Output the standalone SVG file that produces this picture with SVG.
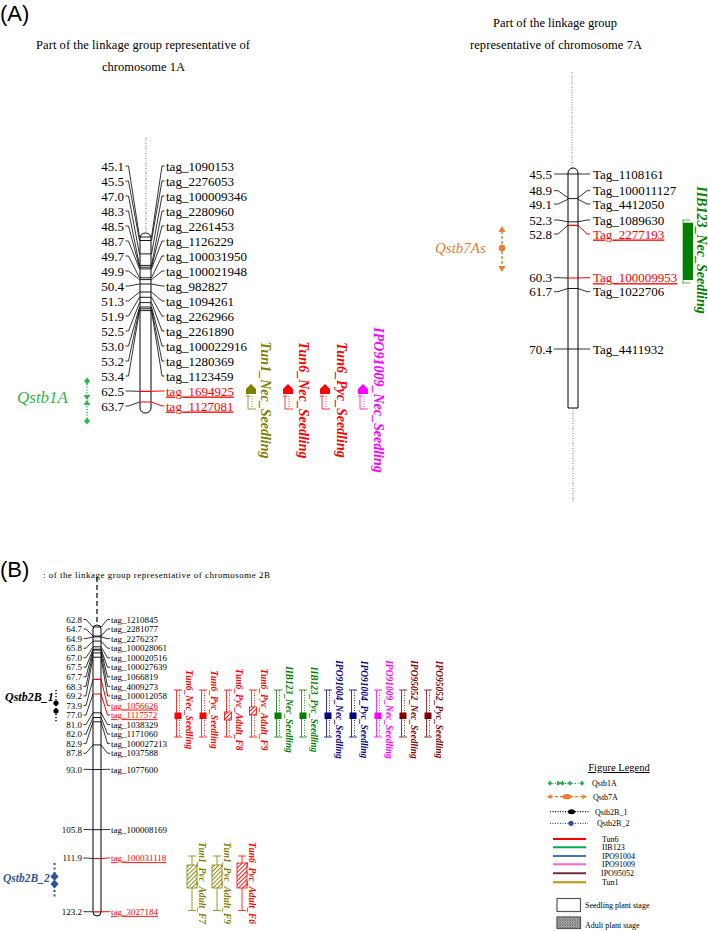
<svg xmlns="http://www.w3.org/2000/svg" width="708" height="931" viewBox="0 0 708 931">
<defs>
<style>
text{font-family:"Liberation Serif","Times New Roman",serif}
.hd{font-family:"Liberation Sans",Arial,sans-serif;font-size:22px}
.ttl{font-size:12.5px}
.m13{font-size:13px}
.m9{font-size:9px}
.e{text-anchor:end}
.r{fill:#f00;text-decoration:underline}
.chr{fill:#fff;stroke:#000;stroke-width:1}
.bd{stroke:#000;stroke-width:0.9}
.bdr{stroke:#f00;stroke-width:1.2}
.cn{fill:none;stroke:#000;stroke-width:0.8}
.cnr{fill:none;stroke:#f00;stroke-width:1}
.ql{font-style:italic;font-weight:bold;text-anchor:middle}
.qa{font-size:14px}
.qb{font-size:9.5px}
.wk{fill:none;stroke-width:0.8}
.dt{fill:none;stroke-width:0.8;stroke-dasharray:1 1.5}
.lg{font-size:8px}
.ll{stroke-width:2}
</style>
<pattern id="hR" width="3" height="3" patternUnits="userSpaceOnUse" patternTransform="rotate(45)"><rect width="3" height="3" fill="#fff"/><line x1="1.5" y1="0" x2="1.5" y2="3" stroke="#f00" stroke-width="0.9"/></pattern>
<pattern id="hO" width="3" height="3" patternUnits="userSpaceOnUse" patternTransform="rotate(45)"><rect width="3" height="3" fill="#fff"/><line x1="1.5" y1="0" x2="1.5" y2="3" stroke="#808000" stroke-width="0.9"/></pattern>
<pattern id="xh" width="2.5" height="2.5" patternUnits="userSpaceOnUse"><rect width="2.5" height="2.5" fill="#ccc"/><path d="M0 0L2.5 2.5M2.5 0L0 2.5" stroke="#444" stroke-width="0.6"/></pattern>
</defs>
<rect width="708" height="931" fill="#fff"/>

<text class="hd" x="0" y="21">(A)</text>
<text class="hd" x="0" y="577">(B)</text>

<g id="title1A">
<text class="ttl" x="36" y="49" textLength="214">Part of the linkage group representative of</text>
<text class="ttl" x="143.5" y="71" text-anchor="middle">chromosome 1A</text>
</g>
<g id="title7A">
<text class="ttl" x="493" y="27" textLength="124">Part of the linkage group</text>
<text class="ttl" x="470" y="49" textLength="172">representative of chromosome 7A</text>
</g>
<g id="title2B">
<text x="43" y="578" font-size="9" textLength="227">: of the linkage group representative of chromosome 2B</text>
</g>

<!-- connectors -->
<g id="connectors">
<path class="cn" d="M125.5 166H128.5L139.5 237M125.5 181H128.5L139.5 240.5M125.5 196H128.5L139.5 253.9M125.5 211H128.5L139.5 265.4M125.5 226H128.5L139.5 267.2M125.5 241H128.5L139.5 268.9M125.5 256H128.5L139.5 277.8M125.5 271H128.5L139.5 279.6M125.5 286H128.5L139.5 284M125.5 301H128.5L139.5 292M125.5 316H128.5L139.5 297.3M125.5 331H128.5L139.5 302.6M125.5 346H128.5L139.5 307M125.5 361H128.5L139.5 308.8M125.5 376H128.5L139.5 310.6M125.5 391H128.5L139.5 391.3M125.5 406H128.5L139.5 402"/>
<path class="cn" d="M151.5 237L162 166H164.5M151.5 240.5L162 181H164.5M151.5 253.9L162 196H164.5M151.5 265.4L162 211H164.5M151.5 267.2L162 226H164.5M151.5 268.9L162 241H164.5M151.5 277.8L162 256H164.5M151.5 279.6L162 271H164.5M151.5 284L162 286H164.5M151.5 292L162 301H164.5M151.5 297.3L162 316H164.5M151.5 302.6L162 331H164.5M151.5 307L162 346H164.5M151.5 308.8L162 361H164.5M151.5 310.6L162 376H164.5"/>
<path class="cnr" d="M151.5 391.3L162 391H164.5M151.5 402L162 406H164.5"/>

<path class="cn" d="M554 174H568M554 190.7H558L568 197.9M554 204H558L568 199.3M554 220H558L568 221.8M554 234H558L568 225.3M554 277.7H558L568 278M554 291.7H558L568 288.5M554 349H568"/>
<path class="cn" d="M578 174H590M578 197.9L587 190.7H590M578 199.3L587 204H590M578 221.8L587 220H590M578 288.5L587 291.7H590M578 349H590"/>
<path class="cnr" d="M578 225.3L587 234H590M578 278L587 277.7H590"/>

<path class="cn" d="M83.5 619.5H86L93 627M83.5 629H86L93 636M83.5 638.6H86L93 636.9M83.5 648.2H86L93 641.1M83.5 657.7H86L93 646.8M83.5 667.2H86L93 649.2M83.5 676.8H86L93 650.1M83.5 686.3H86L93 652.9M83.5 695.9H86L93 657.2M83.5 705.4H86L93 679.3M83.5 715H86L93 694M83.5 724.5H86L93 712.8M83.5 734.1H86L93 717.5M83.5 743.6H86L93 721.8M83.5 753.2H86L93 744.9M83.5 769.3H86L93 769.5M83.5 829.5H86L93 829.7M83.5 858H86L93 858.5M83.5 911.7H86L93 911.8"/>
<path class="cn" d="M101 627L107.5 619.5H110M101 636L107.5 629H110M101 636.9L107.5 638.6H110M101 641.1L107.5 648.2H110M101 646.8L107.5 657.7H110M101 649.2L107.5 667.2H110M101 650.1L107.5 676.8H110M101 652.9L107.5 686.3H110M101 657.2L107.5 695.9H110M101 712.8L107.5 724.5H110M101 717.5L107.5 734.1H110M101 721.8L107.5 743.6H110M101 744.9L107.5 753.2H110M101 769.5L107.5 769.3H110M101 829.7L107.5 829.5H110"/>
<path class="cnr" d="M101 679.3L107.5 705.4H110M101 694L107.5 715H110M101 858.5L107.5 858H110M101 911.8L107.5 911.7H110"/>
</g>

<!-- chromosome 1A -->
<g id="chr1A">
<line x1="146" y1="138" x2="146" y2="233" stroke="#666" stroke-width="0.8" stroke-dasharray="1 1.5"/>
<rect class="chr" x="140" y="233" width="11" height="180" rx="5.5" ry="5"/>
<path class="bd" d="M140 237H151M140 240.5H151M140 253.9H151M140 265.4H151M140 267.2H151M140 268.9H151M140 277.8H151M140 279.6H151M140 284H151M140 292H151M140 297.3H151M140 302.6H151M140 307H151M140 308.8H151M140 310.6H151"/>
<path class="bdr" d="M140 391.3H151M140 402H151"/>
<g class="m13">
<text class="e" x="124" y="170.5">45.1</text>
<text class="e" x="124" y="185.5">45.5</text>
<text class="e" x="124" y="200.5">47.0</text>
<text class="e" x="124" y="215.5">48.3</text>
<text class="e" x="124" y="230.5">48.5</text>
<text class="e" x="124" y="245.5">48.7</text>
<text class="e" x="124" y="260.5">49.7</text>
<text class="e" x="124" y="275.5">49.9</text>
<text class="e" x="124" y="290.5">50.4</text>
<text class="e" x="124" y="305.5">51.3</text>
<text class="e" x="124" y="320.5">51.9</text>
<text class="e" x="124" y="335.5">52.5</text>
<text class="e" x="124" y="350.5">53.0</text>
<text class="e" x="124" y="365.5">53.2</text>
<text class="e" x="124" y="380.5">53.4</text>
<text class="e" x="124" y="395.5">62.5</text>
<text class="e" x="124" y="410.5">63.7</text>
<text x="166" y="170.5">tag_1090153</text>
<text x="166" y="185.5">tag_2276053</text>
<text x="166" y="200.5">tag_100009346</text>
<text x="166" y="215.5">tag_2280960</text>
<text x="166" y="230.5">tag_2261453</text>
<text x="166" y="245.5">tag_1126229</text>
<text x="166" y="260.5">tag_100031950</text>
<text x="166" y="275.5">tag_100021948</text>
<text x="166" y="290.5">tag_982827</text>
<text x="166" y="305.5">tag_1094261</text>
<text x="166" y="320.5">tag_2262966</text>
<text x="166" y="335.5">tag_2261890</text>
<text x="166" y="350.5">tag_100022916</text>
<text x="166" y="365.5">tag_1280369</text>
<text x="166" y="380.5">tag_1123459</text>
<text class="r" x="166" y="395.5">tag_1694925</text>
<text class="r" x="166" y="410.5">tag_1127081</text>
</g>
</g>

<!-- Qstb1A -->
<g id="qstb1A" fill="#2DB84F">
<text x="17" y="403" font-size="17" font-style="italic">Qstb1A</text>
<line x1="87" y1="381" x2="87" y2="421" stroke="#2DB84F" stroke-width="1.3" stroke-dasharray="1.2 1.6"/>
<polygon points="87,377.5 90,381 87,384.5 84,381"/>
<polygon points="87,417.5 90,421 87,424.5 84,421"/>
<polygon points="83.5,395 90.5,395 87,400 90.5,405 83.5,405 87,400"/>
</g>

<!-- Panel A QTLs on 1A -->
<g id="qA_tun1_nec" stroke="#808000" fill="#808000">
<polygon points="246,394 246,389 251,384 256,389 256,394" stroke="none"/>
<path class="wk" d="M248 396V409H256M246 396H250"/>
<path class="dt" d="M252 396V408"/>
<text class="ql qa" stroke="none" transform="translate(261 400) rotate(90)">Tun1_Nec_Seedling</text>
</g>
<g id="qA_tun6_nec" stroke="#f00" fill="#f00">
<polygon points="283,394 283,389 288,384 293,389 293,394" stroke="none"/>
<path class="wk" d="M285 396V409H293M283 396H287"/>
<path class="dt" d="M289 396V408"/>
<text class="ql qa" stroke="none" transform="translate(298.5 400) rotate(90)">Tun6_Nec_Seedling</text>
</g>
<g id="qA_tun6_pyc" stroke="#f00" fill="#f00">
<polygon points="320,394 320,389 325,384 330,389 330,394" stroke="none"/>
<path class="wk" d="M322 396V409H330M320 396H324"/>
<path class="dt" d="M326 396V408"/>
<text class="ql qa" stroke="none" transform="translate(336.5 400) rotate(90)">Tun6_Pyc_Seedling</text>
</g>
<g id="qA_ipo91009_nec" stroke="#f0f" fill="#f0f">
<polygon points="358,394 358,389 363,384 368,389 368,394" stroke="none"/>
<path class="wk" d="M360 396V409H368M358 396H362"/>
<path class="dt" d="M364 396V408"/>
<text class="ql qa" stroke="none" transform="translate(373.5 400) rotate(90)">IPO91009_Nec_Seedling</text>
</g>

<!-- chromosome 7A -->
<g id="chr7A">
<line x1="572" y1="72" x2="572" y2="168" stroke="#666" stroke-width="0.8" stroke-dasharray="1 1.5"/>
<line x1="573" y1="408" x2="573" y2="503" stroke="#666" stroke-width="0.8" stroke-dasharray="1 1.5"/>
<path class="chr" d="M568 408V173A5 5 0 0 1 578 173V408Z"/>
<path class="bd" d="M568 174H578M568 221.8H578M568 349H578"/>
<path class="bd" d="M568 198.6H578" stroke-width="2"/>
<path class="bd" d="M568 288.5H578" stroke-width="2.2"/>
<path class="bdr" d="M568 225.3H578M568 278H578"/>
<g class="m13">
<text class="e" x="552" y="178.5">45.5</text>
<text class="e" x="552" y="195.2">48.9</text>
<text class="e" x="552" y="208.5">49.1</text>
<text class="e" x="552" y="224.5">52.3</text>
<text class="e" x="552" y="238.5">52.8</text>
<text class="e" x="552" y="282.2">60.3</text>
<text class="e" x="552" y="296.2">61.7</text>
<text class="e" x="552" y="353.5">70.4</text>
<text x="593" y="178.5">Tag_1108161</text>
<text x="593" y="195.2">Tag_100011127</text>
<text x="593" y="208.5">Tag_4412050</text>
<text x="593" y="224.5">Tag_1089630</text>
<text class="r" x="593" y="238.5">Tag_2277193</text>
<text class="r" x="593" y="282.2">Tag_100009953</text>
<text x="593" y="296.2">Tag_1022706</text>
<text x="593" y="353.5">Tag_4411932</text>
</g>
</g>

<!-- Qstb7As -->
<g id="qstb7As" fill="#ED7D31">
<text x="435" y="253" font-size="15" font-style="italic">Qstb7As</text>
<line x1="502" y1="231" x2="502" y2="267" stroke="#ED7D31" stroke-width="1.5" stroke-dasharray="3 2"/>
<polygon points="502,226 498.5,232 505.5,232"/>
<polygon points="502,272 498.5,266 505.5,266"/>
<circle cx="502" cy="248" r="3.3"/>
</g>

<!-- IIB123 on 7A -->
<g id="qA_iib123_nec">
<path d="M682 220H690M683 220V283M682 283H690" fill="none" stroke="#33a033" stroke-width="0.8"/>
<rect x="683" y="222.7" width="10" height="57.3" fill="#008000"/>
<text class="ql qa" fill="#008000" transform="translate(697 250) rotate(90)">IIB123_Nec_Seedling</text>
</g>

<!-- chromosome 2B -->
<g id="chr2B">
<line x1="97" y1="577" x2="97" y2="625" stroke="#000" stroke-width="1.2" stroke-dasharray="5 3"/>
<rect class="chr" x="93" y="625" width="8" height="291" rx="4" ry="4"/>
<path class="bd" d="M93 627H101M93 636H101M93 636.9H101M93 641.1H101M93 646.8H101M93 649.2H101M93 650.1H101M93 652.9H101M93 657.2H101M93 712.8H101M93 717.5H101M93 721.8H101M93 744.9H101M93 769.5H101M93 829.7H101"/>
<path class="bdr" d="M93 679.3H101M93 694H101M93 858.5H101M93 911.8H101"/>
<g class="m9">
<text class="e" x="82" y="622.7">62.8</text>
<text class="e" x="82" y="632.2">64.7</text>
<text class="e" x="82" y="641.8">64.9</text>
<text class="e" x="82" y="651.4">65.8</text>
<text class="e" x="82" y="660.9">67.0</text>
<text class="e" x="82" y="670.4">67.5</text>
<text class="e" x="82" y="680">67.7</text>
<text class="e" x="82" y="689.5">68.3</text>
<text class="e" x="82" y="699.1">69.2</text>
<text class="e" x="82" y="708.6">73.9</text>
<text class="e" x="82" y="718.2">77.0</text>
<text class="e" x="82" y="727.7">81.0</text>
<text class="e" x="82" y="737.3">82.0</text>
<text class="e" x="82" y="746.8">82.9</text>
<text class="e" x="82" y="756.4">87.8</text>
<text class="e" x="82" y="772.5">93.0</text>
<text class="e" x="82" y="832.7">105.8</text>
<text class="e" x="82" y="861.2">111.9</text>
<text class="e" x="82" y="914.9">123.2</text>
<text x="111" y="622.7">tag_1210845</text>
<text x="111" y="632.2">tag_2281077</text>
<text x="111" y="641.8">tag_2276237</text>
<text x="111" y="651.4">tag_100028061</text>
<text x="111" y="660.9">tag_100020516</text>
<text x="111" y="670.4">tag_100027639</text>
<text x="111" y="680">tag_1066819</text>
<text x="111" y="689.5">tag_4009273</text>
<text x="111" y="699.1">tag_100012058</text>
<text class="r" x="111" y="708.6">tag_1056626</text>
<text class="r" x="111" y="718.2">tag_1117572</text>
<text x="111" y="727.7">tag_1038329</text>
<text x="111" y="737.3">tag_1171060</text>
<text x="111" y="746.8">tag_100027213</text>
<text x="111" y="756.4">tag_1037588</text>
<text x="111" y="772.5">tag_1077600</text>
<text x="111" y="832.7">tag_100008169</text>
<text class="r" x="111" y="861.2">tag_100031118</text>
<text class="r" x="111" y="914.9">tag_3027184</text>
</g>
</g>

<!-- Qstb2B_1 / Qstb2B_2 -->
<g id="qstb2B_1">
<text x="5" y="700.5" font-size="12" font-style="italic" font-weight="bold">Qstb2B_1</text>
<line x1="56" y1="690" x2="56" y2="722" stroke="#000" stroke-width="1.4" stroke-dasharray="1.2 1.8"/>
<circle cx="56" cy="703" r="2.6"/>
<circle cx="56" cy="711" r="2.6"/>
</g>
<g id="qstb2B_2" fill="#2F5597">
<text x="3" y="882" font-size="11.5" font-style="italic" font-weight="bold">Qstb2B_2</text>
<line x1="54.5" y1="863" x2="54.5" y2="897" stroke="#2F5597" stroke-width="2" stroke-dasharray="2 2.5"/>
<polygon points="54.5,872 58.5,876.5 54.5,881 50.5,876.5"/>
<polygon points="54.5,879.5 58.5,884 54.5,888.5 50.5,884"/>
</g>

<!-- Panel B QTLs upper -->
<g id="qB_tun6_nec_s" stroke="#f00">
<path class="wk" d="M174 690H182M176.5 690V737M174 737H182"/><path class="dt" d="M179.5 690V737"/>
<rect x="174.5" y="712.5" width="7" height="6.5" fill="#f00" stroke="none"/>
<text class="ql qb" fill="#f00" stroke="none" transform="translate(185.5 709.5) rotate(90)">Tun6_Nec_Seedling</text>
</g>
<g id="qB_tun6_pyc_s" stroke="#f00">
<path class="wk" d="M199 690H207M201.5 690V737M199 737H207"/><path class="dt" d="M204.5 690V737"/>
<rect x="199.5" y="712.5" width="7" height="6.5" fill="#f00" stroke="none"/>
<text class="ql qb" fill="#f00" stroke="none" transform="translate(210.5 709.5) rotate(90)">Tun6_Pyc_Seedling</text>
</g>
<g id="qB_tun6_pyc_f8" stroke="#f00">
<path class="wk" d="M224 690H232M226.5 690V737M224 737H232"/><path class="dt" d="M229.5 690V737"/>
<rect x="224.5" y="712" width="7" height="8" fill="url(#hR)" stroke-width="0.8"/>
<text class="ql qb" fill="#f00" stroke="none" transform="translate(235.5 709.5) rotate(90)">Tun6_Pyc_Adult_F8</text>
</g>
<g id="qB_tun6_pyc_f9" stroke="#f00">
<path class="wk" d="M249 690H257M251.5 690V737M249 737H257"/><path class="dt" d="M254.5 690V737"/>
<rect x="249.5" y="707" width="7" height="8" fill="url(#hR)" stroke-width="0.8"/>
<text class="ql qb" fill="#f00" stroke="none" transform="translate(260.5 709.5) rotate(90)">Tun6_Pyc_Adult_F9</text>
</g>
<g id="qB_iib123_nec" stroke="#008000">
<path class="wk" d="M274 690H282M276.5 690V737M274 737H282"/><path class="dt" d="M279.5 690V737"/>
<rect x="274.5" y="712.5" width="7" height="6.5" fill="#008000" stroke="none"/>
<text class="ql qb" fill="#008000" stroke="none" transform="translate(285.5 709.5) rotate(90)">IIB123_Nec_Seedling</text>
</g>
<g id="qB_iib123_pyc" stroke="#008000">
<path class="wk" d="M299 690H307M301.5 690V737M299 737H307"/><path class="dt" d="M304.5 690V737"/>
<rect x="299.5" y="712.5" width="7" height="6.5" fill="#008000" stroke="none"/>
<text class="ql qb" fill="#008000" stroke="none" transform="translate(310.5 709.5) rotate(90)">IIB123_Pyc_Seedling</text>
</g>
<g id="qB_ipo91004_nec" stroke="#000080">
<path class="wk" d="M324 690H332M326.5 690V737M324 737H332"/><path class="dt" d="M329.5 690V737"/>
<rect x="324.5" y="712.5" width="7" height="6.5" fill="#000080" stroke="none"/>
<text class="ql qb" fill="#000080" stroke="none" transform="translate(335.5 709.5) rotate(90)">IPO91004_Nec_Seedling</text>
</g>
<g id="qB_ipo91004_pyc" stroke="#000080">
<path class="wk" d="M349 690H357M351.5 690V737M349 737H357"/><path class="dt" d="M354.5 690V737"/>
<rect x="349.5" y="712.5" width="7" height="6.5" fill="#000080" stroke="none"/>
<text class="ql qb" fill="#000080" stroke="none" transform="translate(360.5 709.5) rotate(90)">IPO91004_Pyc_Seedling</text>
</g>
<g id="qB_ipo91009_nec" stroke="#f0f">
<path class="wk" d="M374 690H382M376.5 690V737M374 737H382"/><path class="dt" d="M379.5 690V737"/>
<rect x="374.5" y="712.5" width="7" height="6.5" fill="#f0f" stroke="none"/>
<text class="ql qb" fill="#f0f" stroke="none" transform="translate(385.5 709.5) rotate(90)">IPO91009_Nec_Seedling</text>
</g>
<g id="qB_ipo95052_nec" stroke="#800000">
<path class="wk" d="M399 690H407M401.5 690V737M399 737H407"/><path class="dt" d="M404.5 690V737"/>
<rect x="399.5" y="712.5" width="7" height="6.5" fill="#800000" stroke="none"/>
<text class="ql qb" fill="#800000" stroke="none" transform="translate(410.5 709.5) rotate(90)">IPO95052_Nec_Seedling</text>
</g>
<g id="qB_ipo95052_pyc" stroke="#800000">
<path class="wk" d="M424 690H432M426.5 690V737M424 737H432"/><path class="dt" d="M429.5 690V737"/>
<rect x="424.5" y="712.5" width="7" height="6.5" fill="#800000" stroke="none"/>
<text class="ql qb" fill="#800000" stroke="none" transform="translate(435.5 709.5) rotate(90)">IPO95052_Pyc_Seedling</text>
</g>

<!-- Panel B QTLs lower -->
<g id="qB_tun1_pyc_f7" stroke="#808000">
<path class="wk" d="M188 856H196M192 856V910.5M188 910.5H196"/>
<rect x="187" y="865" width="10" height="23" fill="url(#hO)" stroke-width="0.8"/>
<text class="ql qb" fill="#808000" stroke="none" transform="translate(198.5 883) rotate(90)">Tun1_Pyc_Adult_F7</text>
</g>
<g id="qB_tun1_pyc_f9" stroke="#808000">
<path class="wk" d="M213 856H221M217 856V910.5M213 910.5H221"/>
<rect x="212" y="865" width="10" height="23" fill="url(#hO)" stroke-width="0.8"/>
<text class="ql qb" fill="#808000" stroke="none" transform="translate(223.5 883) rotate(90)">Tun1_Pyc_Adult_F9</text>
</g>
<g id="qB_tun6_pyc_f6" stroke="#f00">
<path class="wk" d="M238 856H246M242 856V910.5M238 910.5H246"/>
<rect x="237" y="863" width="10" height="25" fill="url(#hR)" stroke-width="0.8"/>
<text class="ql qb" fill="#f00" stroke="none" transform="translate(248.5 883) rotate(90)">Tun6_Pyc_Adult_F6</text>
</g>

<!-- Legend -->
<g id="legend">
<text x="619" y="771" text-anchor="middle" font-size="10.5" text-decoration="underline">Figure Legend</text>
<g fill="#22B14C">
<line x1="550" y1="783.3" x2="582" y2="783.3" stroke="#22B14C" stroke-width="1.2" stroke-dasharray="1 1.5"/>
<polygon points="550,780.8 552.3,783.3 550,785.8 547.7,783.3"/>
<polygon points="557,780.8 562,783.3 557,785.8"/>
<polygon points="562.5,780.8 564.8,783.3 562.5,785.8 560.2,783.3"/>
<polygon points="570,780.8 572.3,783.3 570,785.8 567.7,783.3"/>
<polygon points="582,780.8 584.3,783.3 582,785.8 579.7,783.3"/>
</g>
<text class="lg" x="592" y="786">Qstb1A</text>
<g fill="#ED7D31">
<line x1="550" y1="796.7" x2="584" y2="796.7" stroke="#ED7D31" stroke-width="1.3" stroke-dasharray="3 2"/>
<polygon points="547,796.7 551.5,794.2 551.5,799.2"/>
<polygon points="587,796.7 582.5,794.2 582.5,799.2"/>
<ellipse cx="567" cy="796.7" rx="4.5" ry="2.6"/>
</g>
<text class="lg" x="593" y="799.5">Qstb7A</text>
<line x1="550" y1="811.7" x2="590" y2="811.7" stroke="#000" stroke-width="1.2" stroke-dasharray="1 1.5"/>
<ellipse cx="571.5" cy="811.7" rx="3.5" ry="2.5"/>
<text class="lg" x="595" y="814.5">Qstb2B_1</text>
<line x1="550" y1="823.3" x2="588" y2="823.3" stroke="#2F5597" stroke-width="1.2" stroke-dasharray="1 1.5"/>
<ellipse cx="571" cy="823.3" rx="2.6" ry="2.6" fill="#2F5597"/>
<text class="lg" x="597" y="826.1">Qstb2B_2</text>
<line class="ll" x1="553" y1="839" x2="586" y2="839" stroke="#FF0000"/>
<text class="lg" x="602" y="841.8">Tun6</text>
<line class="ll" x1="553" y1="847.3" x2="586" y2="847.3" stroke="#00B050"/>
<text class="lg" x="602" y="850.1">IIB123</text>
<line class="ll" x1="553" y1="856" x2="586" y2="856" stroke="#4472C4"/>
<text class="lg" x="602" y="858.8">IPO91004</text>
<line class="ll" x1="553" y1="864.3" x2="586" y2="864.3" stroke="#FF66CC"/>
<text class="lg" x="602" y="867.1">IPO91009</text>
<line class="ll" x1="553" y1="873.3" x2="586" y2="873.3" stroke="#7B2C3F"/>
<text class="lg" x="601" y="876.1">IPO95052</text>
<line class="ll" x1="553" y1="882.3" x2="586" y2="882.3" stroke="#C09000"/>
<text class="lg" x="602" y="885.1">Tun1</text>
<rect x="557" y="898.5" width="23.5" height="13" fill="#fff" stroke="#555" stroke-width="1.2"/>
<text class="lg" x="585" y="907.8">Seedling plant stage</text>
<rect x="557" y="917" width="23.5" height="11.5" fill="url(#xh)" stroke="#555" stroke-width="1.2"/>
<text class="lg" x="585" y="927.5">Adult plant stage</text>
</g>
</svg>
